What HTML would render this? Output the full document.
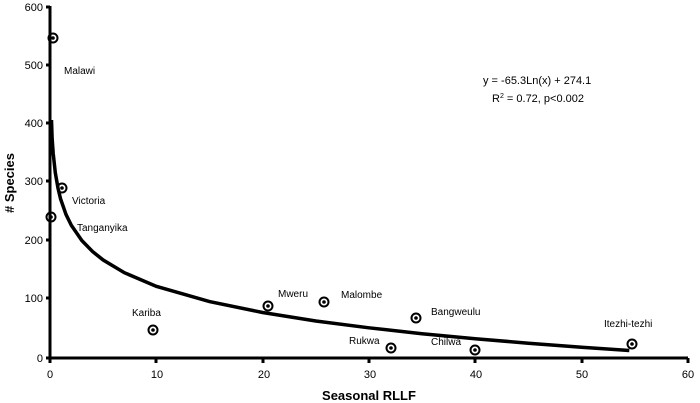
<!DOCTYPE html>
<html><head><style>body{margin:0;background:#fff}svg{display:block}text{font-family:"Liberation Sans",Arial,sans-serif;fill:#000}</style></head>
<body>
<svg width="700" height="403" xmlns="http://www.w3.org/2000/svg">
<g stroke="#000" stroke-width="3">
<line x1="50" y1="6" x2="50" y2="359"/>
<line x1="49" y1="358" x2="688" y2="358"/>
</g>
<g stroke="#000" stroke-width="3">
<line x1="46" y1="7" x2="50" y2="7"/><line x1="46" y1="65" x2="50" y2="65"/><line x1="46" y1="123" x2="50" y2="123"/><line x1="46" y1="181" x2="50" y2="181"/><line x1="46" y1="240" x2="50" y2="240"/><line x1="46" y1="298" x2="50" y2="298"/><line x1="46" y1="358" x2="50" y2="358"/>
<line x1="50" y1="358" x2="50" y2="363"/><line x1="156" y1="358" x2="156" y2="363"/><line x1="263" y1="358" x2="263" y2="363"/><line x1="369" y1="358" x2="369" y2="363"/><line x1="475" y1="358" x2="475" y2="363"/><line x1="582" y1="358" x2="582" y2="363"/><line x1="688" y1="358" x2="688" y2="363"/>
</g>
<g font-size="11" text-anchor="end">
<text x="43" y="11">600</text><text x="43" y="69">500</text><text x="43" y="127">400</text><text x="43" y="185">300</text><text x="43" y="244">200</text><text x="43" y="302">100</text><text x="43" y="362">0</text>
</g>
<g font-size="11" text-anchor="middle">
<text x="50" y="378">0</text><text x="157" y="378">10</text><text x="264" y="378">20</text><text x="370" y="378">30</text><text x="476" y="378">40</text><text x="582" y="378">50</text><text x="688" y="378">60</text>
</g>
<text x="369" y="400" font-size="13" font-weight="bold" text-anchor="middle">Seasonal RLLF</text>
<text transform="translate(14,183) rotate(-90)" font-size="13" font-weight="bold" text-anchor="middle"># Species</text>
<polyline fill="none" stroke="#000" stroke-width="3.5" points="51.5,120 52.1,138 53.2,153.4 55.3,172.7 58,188.1 60.6,199 66,214.4 71.3,225.3 81.9,240.6 92.5,251.5 103.2,260 124.4,272.7 156.3,286.3 209.5,301.6 262.6,312.5 315.8,321 368.9,327.8 422,333.7 475.2,338.7 528.4,343.2 581.5,347.2 629.3,350.5"/>
<g fill="none" stroke="#000" stroke-width="2">
<circle cx="53" cy="38" r="4.5"/><circle cx="62" cy="188" r="4.5"/><circle cx="51" cy="217" r="4.5"/><circle cx="153" cy="330" r="4.5"/><circle cx="268" cy="306" r="4.5"/><circle cx="324" cy="302" r="4.5"/><circle cx="416" cy="318" r="4.5"/><circle cx="391" cy="348" r="4.5"/><circle cx="475" cy="350" r="4.5"/><circle cx="632" cy="344" r="4.5"/>
</g>
<g fill="#000">
<circle cx="53" cy="38" r="1.8"/><circle cx="62" cy="188" r="1.8"/><circle cx="51" cy="217" r="1.8"/><circle cx="153" cy="330" r="1.8"/><circle cx="268" cy="306" r="1.8"/><circle cx="324" cy="302" r="1.8"/><circle cx="416" cy="318" r="1.8"/><circle cx="391" cy="348" r="1.8"/><circle cx="475" cy="350" r="1.8"/><circle cx="632" cy="344" r="1.8"/>
</g>
<g font-size="10">
<text x="64" y="74">Malawi</text>
<text x="72" y="204">Victoria</text>
<text x="77" y="231">Tanganyika</text>
<text x="132" y="316">Kariba</text>
<text x="278" y="297">Mweru</text>
<text x="341" y="298">Malombe</text>
<text x="431" y="315">Bangweulu</text>
<text x="349" y="344">Rukwa</text>
<text x="431" y="345">Chilwa</text>
<text x="604" y="327">Itezhi-tezhi</text>
</g>
<g font-size="11">
<text x="483" y="84">y = -65.3Ln(x) + 274.1</text>
<text x="492" y="102">R<tspan font-size="7" dy="-4">2</tspan><tspan dy="4"> = 0.72, p&lt;0.002</tspan></text>
</g>
</svg>
</body></html>
